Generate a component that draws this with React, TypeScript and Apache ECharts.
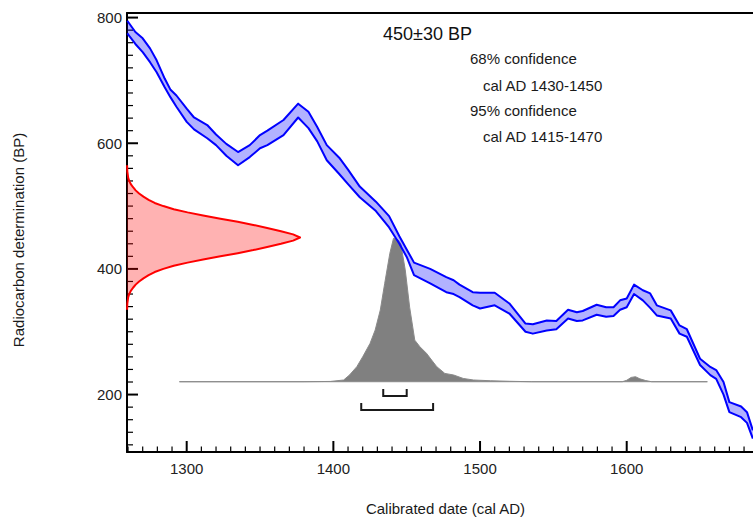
import React, { useEffect, useRef } from "react";
import * as echarts from "echarts";

// Calibration curve band: calendar year, upper and lower edges in BP
const calYears = [1259.5, 1265, 1270, 1275, 1279.5, 1285, 1289, 1293, 1300, 1305, 1314, 1320, 1327, 1335, 1343, 1350, 1355, 1366, 1376, 1383, 1389, 1395.5, 1404, 1410, 1418, 1429, 1438, 1445, 1450, 1455, 1466, 1477, 1482, 1486, 1495, 1500, 1510, 1520, 1531, 1536, 1545.5, 1552, 1560, 1566, 1570, 1579.5, 1586, 1591, 1595.5, 1600, 1605, 1611, 1616, 1620.5, 1630, 1636, 1641, 1650, 1657, 1661, 1666, 1670, 1678, 1682, 1686];
const calUpper = [795, 777, 767, 751, 732, 703, 685, 676, 655, 641, 629, 614, 599, 586, 597, 613, 620, 637, 663, 650, 626, 597, 577, 558, 531, 507, 484, 452, 431, 410, 400, 387, 382, 375, 363, 362, 362, 345, 313, 312, 318, 317, 335, 331, 333, 343, 339, 339, 350, 353, 375, 366, 361, 342, 334, 310, 304, 257, 244, 239, 220, 188, 181, 172, 143];
const calLower = [775, 758, 745, 729, 713, 689, 673, 658, 634, 622, 608, 597, 580, 565, 578, 592, 597, 613, 641, 624, 603, 573, 551, 535, 514, 492, 466, 440, 419, 390, 377, 363, 360, 355, 342, 337, 342, 329, 300, 297, 302, 304, 321, 317, 318, 327, 324, 325, 335, 339, 360, 350, 338, 326, 321, 297, 292, 247, 231, 225, 200, 172, 164, 155, 130];

// Radiocarbon measurement distribution (relative probability vs BP)
const redBP = [565, 555, 545, 540, 535, 530, 525, 520, 515, 510, 505, 500, 495, 490, 485, 480, 475, 470, 465, 460, 455, 450, 445, 440, 435, 430, 425, 420, 415, 410, 405, 400, 395, 390, 385, 380, 375, 370, 365, 360, 355, 345, 335];
const redProb = [0.0005, 0.002, 0.007, 0.013, 0.022, 0.035, 0.05, 0.07, 0.095, 0.125, 0.16, 0.21, 0.27, 0.35, 0.44, 0.54, 0.64, 0.73, 0.81, 0.89, 0.96, 1.0, 0.96, 0.89, 0.81, 0.73, 0.64, 0.54, 0.44, 0.35, 0.27, 0.21, 0.16, 0.125, 0.095, 0.07, 0.05, 0.035, 0.022, 0.013, 0.007, 0.002, 0.0005];

// Calibrated date distribution (relative probability vs cal AD)
const grayYears = [1295, 1380, 1398, 1407, 1411, 1416, 1420, 1425, 1428.5, 1432, 1435, 1438.5, 1441, 1444, 1446, 1449, 1452, 1455.5, 1459, 1463.5, 1467, 1470.5, 1476, 1482, 1488.5, 1495.5, 1507, 1520, 1535, 1597, 1600, 1603, 1606, 1609, 1613, 1617, 1655];
const grayProb = [0, 0, 0.002, 0.012, 0.047, 0.105, 0.174, 0.267, 0.36, 0.5, 0.686, 0.895, 1.0, 0.99, 0.96, 0.78, 0.52, 0.29, 0.244, 0.198, 0.151, 0.105, 0.058, 0.047, 0.023, 0.012, 0.007, 0.003, 0, 0, 0.01, 0.03, 0.035, 0.02, 0.008, 0, 0];

// Confidence ranges (cal AD)
const range68 = [1434, 1450];
const range95 = [1419, 1468];

// Ticks
const xMajorTicks = [1300, 1400, 1500, 1600];
const xMinorTicks = [1260, 1270, 1280, 1290, 1310, 1320, 1330, 1340, 1350, 1360, 1370, 1380, 1390, 1410, 1420, 1430, 1440, 1450, 1460, 1470, 1480, 1490, 1510, 1520, 1530, 1540, 1550, 1560, 1570, 1580, 1590, 1610, 1620, 1630, 1640, 1650, 1660, 1670, 1680];
const yMajorTicks = [200, 400, 600, 800];
const yMinorTicks = [120, 140, 160, 180, 220, 240, 260, 280, 300, 320, 340, 360, 380, 420, 440, 460, 480, 500, 520, 540, 560, 580, 620, 640, 660, 680, 700, 720, 740, 760, 780];

// Texts
const titleText = "450±30 BP";
const confLines = ["68% confidence", "cal AD 1430-1450", "95% confidence", "cal AD 1415-1470"];
const xTitle = "Calibrated date (cal AD)";
const yTitle = "Radiocarbon determination (BP)";

const X_MIN = 1259.3;
const X_MAX = 1686.1;
const Y_MIN = 108.6;
const Y_MAX = 807.3;
const FONT = "'Liberation Sans', Arial, Helvetica, sans-serif";

export default function App() {
  const ref = useRef<HTMLDivElement>(null);

  useEffect(() => {
    if (!ref.current) return;
    const chart = echarts.init(ref.current, undefined, { renderer: "svg" });

    const axisBlack = { color: "#000", width: 2 };

    const option: any = {
      animation: false,
      backgroundColor: "#fff",
      grid: { left: 127, right: 0, top: 13, bottom: 65, containLabel: false, outerBoundsMode: "none" },
      xAxis: [
        {
          type: "value", position: "bottom", min: X_MIN, max: X_MAX,
          axisLine: { show: true, onZero: false, lineStyle: axisBlack },
          axisTick: { show: false },
          axisLabel: {
            show: true, customValues: xMajorTicks, color: "#222", fontSize: 15, fontFamily: FONT, margin: 9,
            formatter: (v: number) => String(v),
          },
          splitLine: { show: false },
        },
        {
          type: "value", position: "top", min: X_MIN, max: X_MAX,
          axisLine: { show: true, onZero: false, lineStyle: axisBlack },
          axisTick: { show: false }, axisLabel: { show: false }, splitLine: { show: false },
        },
        {
          type: "value", position: "top", min: 0, max: 3.618, show: false,
          axisLine: { onZero: false }, splitLine: { show: false },
        },
      ],
      yAxis: [
        {
          type: "value", position: "left", min: Y_MIN, max: Y_MAX,
          axisLine: { show: true, onZero: false, lineStyle: axisBlack },
          axisTick: { show: false },
          axisLabel: {
            show: true, customValues: yMajorTicks, color: "#222", fontSize: 15, fontFamily: FONT, margin: 5,
            formatter: (v: number) => String(v),
          },
          splitLine: { show: false },
        },
        {
          type: "value", position: "right", min: -0.49, max: 2.571, show: false,
          axisLine: { onZero: false }, splitLine: { show: false },
        },
      ],
      graphic: [
        { type: "text", x: 383, y: 34, style: { text: titleText, font: `18px ${FONT}`, fill: "#111", textVerticalAlign: "middle" } },
        { type: "text", x: 470, y: 58, style: { text: confLines[0], font: `15px ${FONT}`, fill: "#1a1a1a", textVerticalAlign: "middle" } },
        { type: "text", x: 483, y: 85, style: { text: confLines[1], font: `15px ${FONT}`, fill: "#1a1a1a", textVerticalAlign: "middle" } },
        { type: "text", x: 470, y: 110, style: { text: confLines[2], font: `15px ${FONT}`, fill: "#1a1a1a", textVerticalAlign: "middle" } },
        { type: "text", x: 483, y: 136, style: { text: confLines[3], font: `15px ${FONT}`, fill: "#1a1a1a", textVerticalAlign: "middle" } },
        { type: "text", x: 445.5, y: 508, style: { text: xTitle, font: `15px ${FONT}`, fill: "#1a1a1a", textAlign: "center", textVerticalAlign: "middle" } },
        { type: "text", x: 18, y: 240, rotation: Math.PI / 2, style: { text: yTitle, font: `15px ${FONT}`, fill: "#1a1a1a", textAlign: "center", textVerticalAlign: "middle" } },
      ],
      series: [
        // x-axis ticks (inside), drawn through the axis scale
        {
          type: "custom", xAxisIndex: 0, yAxisIndex: 0, silent: true, z: 1,
          data: [...xMinorTicks.map((v) => [v, 0]), ...xMajorTicks.map((v) => [v, 1])],
          encode: { x: 0 },
          renderItem: (params: any, api: any) => {
            const p = api.coord([api.value(0), Y_MIN]);
            const major = api.value(1) === 1;
            return {
              type: "line",
              shape: { x1: p[0], y1: p[1], x2: p[0], y2: p[1] - (major ? 11 : 5.5) },
              style: { stroke: "#000", lineWidth: major ? 2 : 1.2 },
            };
          },
        },
        // y-axis ticks (inside)
        {
          type: "custom", xAxisIndex: 0, yAxisIndex: 0, silent: true, z: 1,
          data: [...yMinorTicks.map((v) => [v, 0]), ...yMajorTicks.map((v) => [v, 1])],
          encode: { y: 0 },
          renderItem: (params: any, api: any) => {
            const p = api.coord([X_MIN, api.value(0)]);
            const major = api.value(1) === 1;
            return {
              type: "line",
              shape: { x1: p[0], y1: p[1], x2: p[0] + (major ? 11 : 6), y2: p[1] },
              style: { stroke: "#000", lineWidth: major ? 2 : 1.2 },
            };
          },
        },
        // calibrated distribution
        {
          type: "custom", xAxisIndex: 0, yAxisIndex: 1, silent: true, z: 2,
          data: [[grayYears[0], grayProb[0]]],
          renderItem: (params: any, api: any) => {
            const pts = grayYears.map((yr, i) => api.coord([yr, grayProb[i]]));
            return {
              type: "polygon",
              shape: { points: pts },
              style: { fill: "#808080", stroke: "#8a8a8a", lineWidth: 1 },
            };
          },
        },
        // confidence brackets
        {
          type: "custom", xAxisIndex: 0, yAxisIndex: 1, silent: true, z: 2,
          data: [[range68[0], range68[1], 0], [range95[0], range95[1], 1]],
          encode: { x: [0, 1] },
          renderItem: (params: any, api: any) => {
            const a = api.coord([api.value(0), 0]);
            const b = api.coord([api.value(1), 0]);
            const lvl = api.value(2);
            const yLine = a[1] + (lvl === 0 ? 14.3 : 28.3);
            const leg = 7;
            return {
              type: "polyline",
              shape: { points: [[a[0], yLine - leg], [a[0], yLine], [b[0], yLine], [b[0], yLine - leg]] },
              style: { stroke: "#1a1a1a", lineWidth: 2, fill: null },
            };
          },
        },
        // calibration band fill
        {
          type: "custom", xAxisIndex: 0, yAxisIndex: 0, silent: true, z: 3,
          data: [[calYears[0], calUpper[0]]],
          renderItem: (params: any, api: any) => {
            const pts: number[][] = [];
            for (let i = 0; i < calYears.length; i++) pts.push(api.coord([calYears[i], calUpper[i]]));
            for (let i = calYears.length - 1; i >= 0; i--) pts.push(api.coord([calYears[i], calLower[i]]));
            return { type: "polygon", shape: { points: pts }, style: { fill: "rgba(0,0,255,0.3)" } };
          },
        },
        {
          type: "line", xAxisIndex: 0, yAxisIndex: 0, silent: true, z: 4,
          data: calYears.map((x, i) => [x, calUpper[i]]),
          showSymbol: false, symbol: "none",
          lineStyle: { color: "#0000ff", width: 2, join: "round" },
        },
        {
          type: "line", xAxisIndex: 0, yAxisIndex: 0, silent: true, z: 4,
          data: calYears.map((x, i) => [x, calLower[i]]),
          showSymbol: false, symbol: "none",
          lineStyle: { color: "#0000ff", width: 2, join: "round" },
        },
        // radiocarbon measurement distribution
        {
          type: "custom", xAxisIndex: 2, yAxisIndex: 0, silent: true, z: 3,
          data: [[redProb[0], redBP[0]]],
          renderItem: (params: any, api: any) => {
            const curve = redBP.map((bp, i) => api.coord([redProb[i], bp]));
            const poly = [api.coord([0, redBP[0]]), ...curve, api.coord([0, redBP[redBP.length - 1]])];
            return {
              type: "group",
              children: [
                { type: "polygon", shape: { points: poly }, style: { fill: "rgba(255,0,0,0.3)" } },
                { type: "polyline", shape: { points: curve }, style: { stroke: "#ff0000", lineWidth: 2, fill: null, lineJoin: "round" } },
              ],
            };
          },
        },
      ],
    };

    chart.setOption(option);
    return () => chart.dispose();
  }, []);

  return (
    <div
      ref={ref}
      style={{ position: "fixed", left: 0, top: 0, width: 753, height: 517, background: "#fff" }}
    />
  );
}
